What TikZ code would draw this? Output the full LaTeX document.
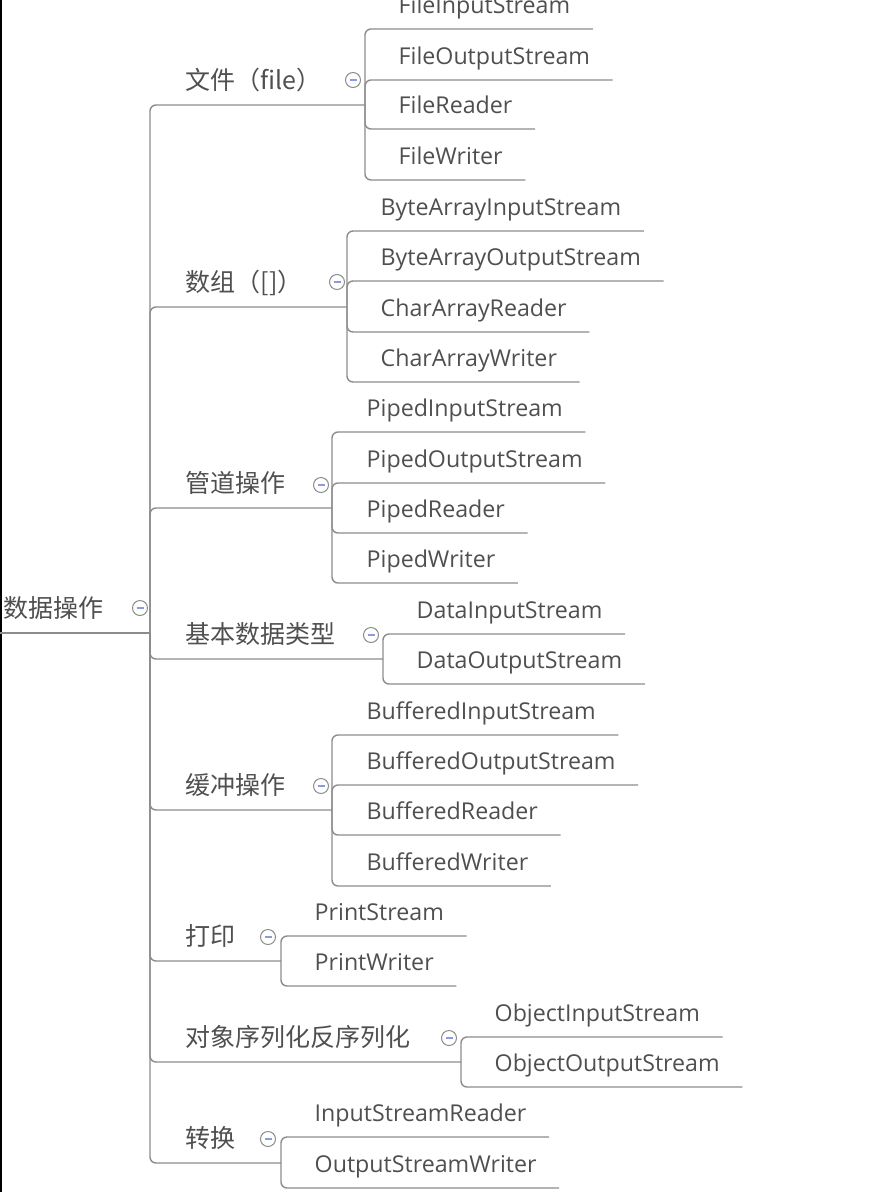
\documentclass[tikz,border=0pt]{standalone}
\usepackage{fontspec}
\setmainfont{Open Sans}
\newfontfamily\cjk{Noto Sans CJK SC}
\usepackage{tikz}
\usetikzlibrary{positioning}
\definecolor{linegray}{HTML}{8C8C8C}
\definecolor{textgray}{HTML}{4F4F4F}
\definecolor{minusblue}{HTML}{8F9AD6}

\begin{document}
\begin{tikzpicture}[x=1pt, y=-1pt, line width=1.4pt,
		topic/.style={inner sep=0pt, anchor=south west, text=textgray, font=\cjk\fontsize{25}{25}\selectfont, text depth=14.5pt},
		leaf/.style={inner sep=0pt, anchor=south west, text=textgray, font=\fontsize{23.2}{23.2}\selectfont, text depth=15pt},
		fold/.style={circle, draw=linegray, line width=1pt, fill=white, minimum size=15pt, inner sep=0pt,
			path picture={\draw[minusblue, line width=1.3pt] ([xshift=-3.5pt]path picture bounding box.center) -- ([xshift=3.5pt]path picture bounding box.center);}},
		link/.style={draw=linegray, rounded corners=6pt}]
		\useasboundingbox (0,0) rectangle (872,1192);
		\draw[black, line width=2pt] (1,0) -- (1,1192);

		\node[topic, inner xsep=3pt] (root) at (0,633) {数据操作};
		\node[fold] (croot) at (140,608) {};
		\coordinate (jroot) at (150,633);
		\draw[link] (root.south west) -- (jroot);

		\node[topic] (bfile) at (185,105) {文件（file）};
		\node[fold] (cfile) at (353,80) {};
		\coordinate (jfile) at (365,105);
		\draw[link] (jroot) |- (jfile);
		\foreach \n/\y/\t in {fis/29/FileInputStream, fos/80/FileOutputStream, frd/129/FileReader, fwr/180/FileWriter} {
			\node[leaf] (\n) at (398,\y) {\t};
			\draw[link] (jfile) |- ([xshift=22pt]\n.south east);
		}

		\node[topic] (barr) at (185,307) {数组（[]）};
		\node[fold] (carr) at (337,282) {};
		\coordinate (jarr) at (347,307);
		\draw[link] (jroot) |- (jarr);
		\foreach \n/\y/\t in {bais/231/ByteArrayInputStream, baos/281/ByteArrayOutputStream, car/332/CharArrayReader, caw/382/CharArrayWriter} {
			\node[leaf] (\n) at (380,\y) {\t};
			\draw[link] (jarr) |- ([xshift=22pt]\n.south east);
		}

		\node[topic] (bpipe) at (185,508) {管道操作};
		\node[fold] (cpipe) at (321,485) {};
		\coordinate (jpipe) at (332,508);
		\draw[link] (jroot) |- (jpipe);
		\foreach \n/\y/\t in {pis/432/PipedInputStream, pos/483/PipedOutputStream, prd/533/PipedReader, pwr/583/PipedWriter} {
			\node[leaf] (\n) at (366,\y) {\t};
			\draw[link] (jpipe) |- ([xshift=22pt]\n.south east);
		}

		\node[topic] (bdata) at (185,659) {基本数据类型};
		\node[fold] (cdata) at (371,635) {};
		\coordinate (jdata) at (383,659);
		\draw[link] (jroot) |- (jdata);
		\foreach \n/\y/\t in {dis/634/DataInputStream, dos/684/DataOutputStream} {
			\node[leaf] (\n) at (416,\y) {\t};
			\draw[link] (jdata) |- ([xshift=22pt]\n.south east);
		}

		\node[topic] (bbuf) at (185,810) {缓冲操作};
		\node[fold] (cbuf) at (321,786) {};
		\coordinate (jbuf) at (332,810);
		\draw[link] (jroot) |- (jbuf);
		\foreach \n/\y/\t in {bis/735/BufferedInputStream, bos/785/BufferedOutputStream, brd/835/BufferedReader, bwr/886/BufferedWriter} {
			\node[leaf] (\n) at (366,\y) {\t};
			\draw[link] (jbuf) |- ([xshift=22pt]\n.south east);
		}

		\node[topic] (bprint) at (185,961) {打印};
		\node[fold] (cprint) at (268,937) {};
		\coordinate (jprint) at (281,961);
		\draw[link] (jroot) |- (jprint);
		\foreach \n/\y/\t in {pst/936/PrintStream, pwt/986/PrintWriter} {
			\node[leaf] (\n) at (314,\y) {\t};
			\draw[link] (jprint) |- ([xshift=22pt]\n.south east);
		}

		\node[topic] (bobj) at (185,1062) {对象序列化反序列化};
		\node[fold] (cobj) at (449,1038) {};
		\coordinate (jobj) at (461,1062);
		\draw[link] (jroot) |- (jobj);
		\foreach \n/\y/\t in {ois/1037/ObjectInputStream, oos/1087/ObjectOutputStream} {
			\node[leaf] (\n) at (494,\y) {\t};
			\draw[link] (jobj) |- ([xshift=22pt]\n.south east);
		}

		\node[topic] (bconv) at (185,1163) {转换};
		\node[fold] (cconv) at (268,1139) {};
		\coordinate (jconv) at (281,1163);
		\draw[link] (jroot) |- (jconv);
		\foreach \n/\y/\t in {isr/1137/InputStreamReader, osw/1188/OutputStreamWriter} {
			\node[leaf] (\n) at (314,\y) {\t};
			\draw[link] (jconv) |- ([xshift=22pt]\n.south east);
		}
	\end{tikzpicture}
\end{document}
